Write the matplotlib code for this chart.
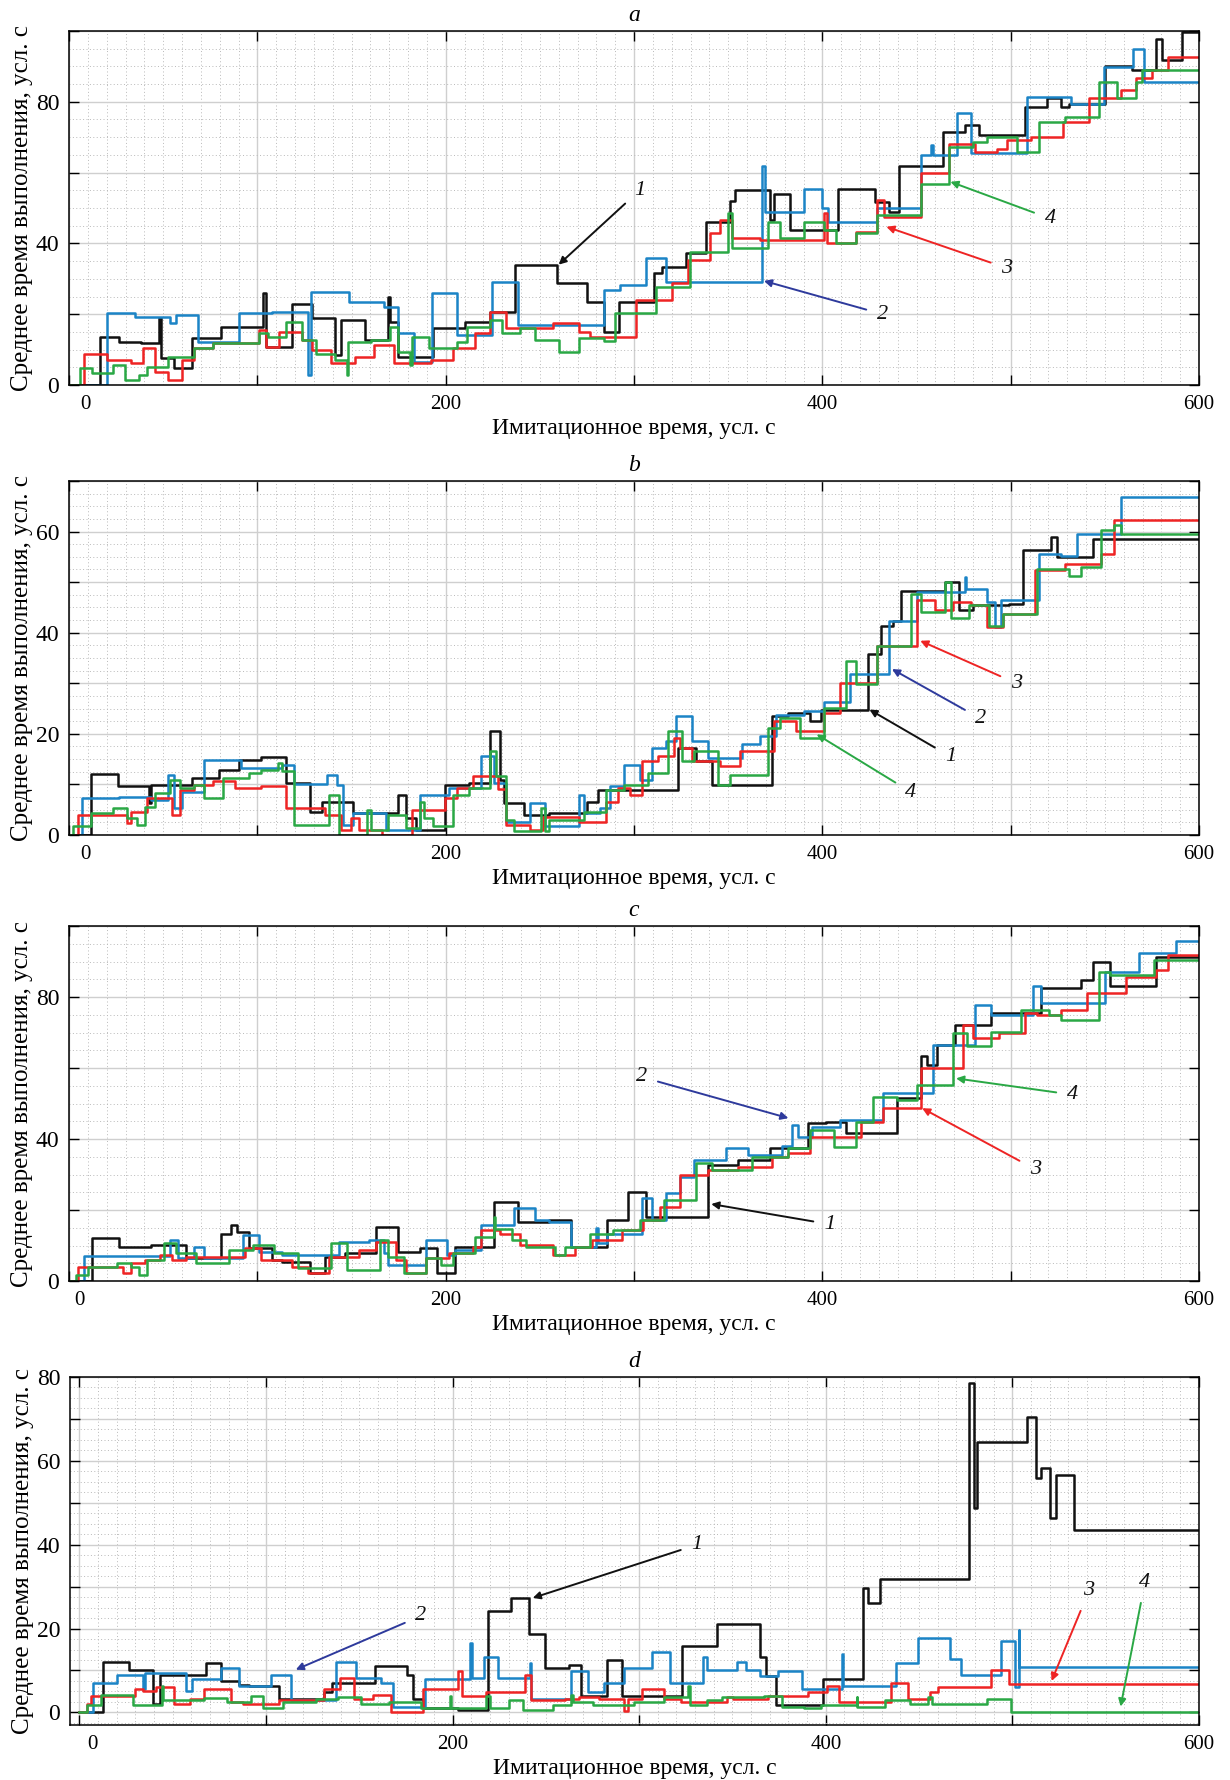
import matplotlib
matplotlib.use('Agg')
import matplotlib.pyplot as plt
from matplotlib.ticker import MultipleLocator, FuncFormatter

plt.rcParams['font.family'] = ['Liberation Serif', 'DejaVu Serif']

XLABEL = 'Имитационное время, усл. с'
YLABEL = 'Среднее время выполнения, усл. с'

# series are step functions: (time, value) where each value holds until the next time
# ---- panel a ----
A_BLACK = [(0, 0), (16.7, 13.6), (26.4, 12.2), (38.3, 11.8), (47.6, 19.0), (49.1, 7.5), (55.6, 4.7),
           (65.4, 13.2), (80.5, 16.5), (103.2, 26.0), (104.5, 10.8), (118.4, 23.0), (129.2, 18.8),
           (141.1, 8.5), (144.4, 18.4), (157.4, 12.7), (169.3, 25.0), (170.3, 17.9), (174.7, 8.0),
           (193.1, 16.0), (210.4, 17.9), (223.4, 20.7), (236.8, 33.9), (259.1, 28.7), (275.3, 23.5),
           (284.0, 15.0), (292.0, 23.5), (310.4, 31.5), (314.7, 33.4), (327.5, 37.2), (338.2, 46.1),
           (351.0, 52.0), (353.7, 55.0), (372.3, 46.6), (374.4, 54.0), (382.9, 43.8), (408.5, 55.5),
           (427.7, 51.8), (435.2, 49.0), (440.5, 62.0), (464.0, 71.5), (475.7, 73.4), (483.2, 70.6),
           (507.7, 78.6), (519.4, 81.0), (526.9, 78.4), (531.1, 79.5), (550.3, 90.0), (564.2, 89.0),
           (577.0, 97.6), (580.2, 91.8), (590.8, 99.6), (600, 99.6)]
A_BLUE = [(0, 0), (20.0, 20.2), (35.0, 19.3), (53.5, 17.4), (56.8, 19.8), (68.6, 12.2), (90.3, 20.2),
          (107.6, 20.7), (127.0, 2.8), (128.5, 26.4), (148.7, 23.5), (167.0, 22.1), (174.7, 14.6),
          (183.0, 6.6), (193.0, 25.9), (206.0, 14.1), (224.5, 29.2), (238.5, 17.0), (284.0, 26.8),
          (292.6, 28.2), (306.6, 35.8), (316.8, 29.2), (368.0, 62.0), (369.5, 49.0), (390.4, 55.5),
          (400.0, 49.9), (403.0, 46.1), (428.8, 49.9), (452.2, 65.0), (457.5, 67.8), (459.0, 65.0),
          (471.4, 76.7), (478.9, 65.4), (508.7, 81.4), (532.2, 79.5), (549.3, 89.9), (565.0, 95.0),
          (570.6, 85.6), (600, 85.6)]
A_RED = [(0, 0), (8.0, 8.8), (20.0, 7.1), (33.0, 6.1), (39.4, 10.4), (45.9, 3.8), (52.4, 1.4),
         (60.0, 7.1), (66.5, 10.4), (76.2, 11.8), (101.0, 15.5), (104.5, 10.8), (111.3, 15.0),
         (123.8, 12.7), (129.2, 9.9), (139.0, 6.1), (152.0, 8.0), (161.7, 11.3), (172.5, 6.1),
         (192.0, 7.1), (203.9, 10.4), (215.8, 14.6), (223.4, 20.7), (232.0, 16.0), (257.0, 17.4),
         (271.0, 15.0), (276.4, 13.6), (301.3, 24.0), (320.0, 28.7), (328.6, 35.3), (340.3, 42.8),
         (345.6, 46.6), (352.0, 41.4), (367.0, 41.0), (401.0, 48.5), (402.5, 40.0), (418.0, 43.3),
         (428.8, 52.2), (433.0, 47.5), (452.2, 59.8), (467.0, 68.2), (481.0, 65.9), (492.7, 66.8),
         (498.0, 69.2), (510.6, 70.1), (527.9, 74.4), (541.8, 81.0), (558.8, 83.3), (566.3, 86.6),
         (574.8, 89.0), (583.4, 92.7), (600, 92.7)]
A_GREEN = [(0, 0), (6.0, 4.7), (12.3, 3.3), (23.2, 5.6), (29.7, 1.4), (37.2, 2.8), (41.6, 5.2),
           (52.4, 8.0), (66.5, 10.4), (76.2, 11.8), (101.0, 14.6), (105.4, 13.6), (115.0, 17.9),
           (123.8, 12.7), (131.4, 8.9), (141.1, 7.1), (147.5, 2.8), (148.0, 12.2), (160.6, 12.7),
           (170.3, 16.5), (174.7, 9.4), (181.2, 5.6), (182.0, 13.6), (191.0, 10.4), (206.0, 12.2),
           (211.4, 16.5), (223.4, 18.4), (229.9, 14.6), (239.6, 16.0), (247.2, 12.7), (260.2, 9.4),
           (271.0, 13.2), (284.0, 12.5), (290.0, 20.2), (311.5, 27.8), (329.6, 37.6), (349.9, 48.5),
           (352.0, 38.6), (371.2, 46.1), (377.6, 41.4), (390.4, 46.1), (401.0, 43.8), (407.4, 40.0),
           (418.0, 42.8), (428.8, 48.0), (452.2, 56.9), (467.2, 67.3), (480.0, 68.7), (487.4, 70.1),
           (503.4, 65.9), (515.1, 74.4), (529.0, 75.8), (547.1, 85.6), (556.7, 81.0), (566.3, 85.6),
           (569.5, 89.0), (600, 89.0)]

# ---- panel b ----
B_BLACK = [(0, 0), (11.7, 12.1), (26.0, 9.6), (42.6, 6.3), (43.5, 9.9), (65.4, 11.3), (79.4, 12.9),
           (90.3, 14.9), (102.0, 15.4), (115.0, 10.3), (128.0, 4.6), (134.6, 6.6), (150.9, 4.3),
           (174.7, 7.9), (179.0, 3.3), (184.4, 1.0), (199.6, 9.9), (212.6, 10.3), (223.4, 20.5),
           (228.8, 10.9), (231.0, 6.3), (241.8, 4.0), (254.8, 4.3), (275.3, 6.6), (280.7, 8.9),
           (323.2, 17.2), (332.8, 14.6), (341.4, 9.9), (373.3, 23.5), (381.9, 24.2), (393.6, 22.5),
           (399.1, 24.8), (424.5, 35.8), (431.0, 41.4), (437.4, 42.4), (441.6, 48.3), (465.0, 50.0),
           (472.8, 44.4), (480.0, 45.4), (499.1, 45.7), (506.6, 56.3), (521.5, 58.9), (524.7, 55.0),
           (543.9, 58.6), (600, 58.6)]
B_BLUE = [(0, 0), (6.9, 7.3), (26.4, 7.6), (43.7, 7.0), (52.4, 11.9), (55.6, 5.3), (60.0, 8.6),
          (71.9, 14.9), (91.3, 13.2), (113.0, 13.9), (119.5, 10.0), (136.8, 11.9), (142.2, 9.9),
          (145.5, 2.0), (150.9, 4.3), (168.2, 1.0), (186.6, 7.9), (201.7, 9.3), (219.0, 15.6),
          (225.5, 10.3), (232.0, 2.6), (245.0, 6.3), (252.6, 1.7), (271.0, 7.9), (273.2, 4.3),
          (281.7, 5.3), (287.0, 9.6), (294.5, 13.9), (303.0, 10.9), (309.4, 17.2), (316.8, 18.5),
          (322.2, 23.5), (330.7, 18.5), (339.2, 15.2), (357.4, 17.9), (366.9, 19.5), (375.5, 23.8),
          (390.4, 24.5), (401.1, 26.2), (414.9, 31.8), (435.2, 42.4), (450.1, 48.0), (475.7, 51.0),
          (476.5, 48.7), (487.4, 46.1), (491.7, 41.1), (494.9, 46.4), (515.1, 55.6), (526.9, 55.2),
          (535.4, 59.6), (558.8, 66.9), (600, 66.9)]
B_RED = [(0, 0), (4.8, 4.0), (30.7, 2.3), (32.9, 4.6), (41.6, 7.3), (54.5, 4.0), (58.9, 8.9),
         (66.5, 9.9), (76.2, 10.6), (88.1, 9.3), (102.2, 9.6), (115.2, 5.3), (135.7, 4.0), (144.4, 1.0),
         (149.8, 3.3), (154.1, 1.0), (166.0, 0.0), (182.3, 5.0), (199.6, 7.3), (206.1, 9.3),
         (214.7, 11.6), (227.7, 9.0), (232.0, 2.0), (245.0, 1.0), (251.5, 3.6), (271.0, 2.6),
         (284.9, 6.6), (291.3, 9.3), (297.7, 7.9), (304.0, 14.6), (312.6, 15.6), (321.1, 19.2),
         (324.3, 17.2), (330.7, 14.6), (345.6, 13.6), (356.3, 16.6), (374.4, 22.5), (386.1, 20.5),
         (401.1, 24.2), (409.6, 30.1), (428.8, 37.4), (450.1, 46.4), (459.7, 44.4), (469.3, 46.0),
         (478.9, 45.4), (487.4, 41.1), (496.0, 43.7), (513.0, 52.3), (529.0, 53.6), (548.2, 55.6),
         (554.6, 62.3), (600, 62.3)]
B_GREEN = [(0, 0), (2.2, 1.7), (11.7, 4.3), (23.2, 5.3), (30.7, 3.3), (36.1, 2.0), (40.5, 5.6),
           (45.9, 8.3), (53.5, 10.9), (58.9, 9.3), (66.5, 9.9), (71.9, 7.3), (81.6, 11.3), (95.7, 12.3),
           (102.2, 12.9), (110.8, 14.2), (113.0, 12.6), (119.5, 2.0), (137.9, 7.9), (143.3, 0.0),
           (158.4, 5.0), (160.6, 1.0), (169.3, 4.0), (179.0, 1.3), (186.6, 6.6), (188.7, 3.3),
           (193.1, 1.7), (203.9, 7.9), (212.6, 9.3), (223.4, 16.6), (226.6, 11.6), (232.0, 3.0),
           (236.4, 0.7), (250.4, 5.3), (252.6, 0.7), (254.8, 3.0), (273.2, 4.6), (284.9, 8.9),
           (294.5, 9.9), (307.2, 12.3), (317.9, 20.5), (325.4, 14.6), (331.8, 16.6), (344.6, 9.9),
           (351.0, 11.9), (371.2, 21.2), (377.6, 23.2), (388.3, 19.2), (401.1, 25.2), (412.8, 34.4),
           (418.1, 29.8), (428.8, 37.4), (446.9, 47.7), (452.2, 44.0), (465.0, 50.0), (468.2, 43.0),
           (477.8, 45.4), (488.5, 41.4), (496.0, 43.7), (514.1, 52.6), (531.1, 51.3), (537.5, 53.0),
           (548.2, 60.3), (554.6, 61.3), (558.8, 59.6), (600, 59.6)]

# ---- panel c ----
C_BLACK = [(0, 0), (12.3, 12.0), (26.4, 9.7), (43.7, 10.2), (62.1, 6.4), (80.5, 13.4), (85.9, 15.8),
           (89.2, 13.9), (95.7, 9.2), (107.6, 5.9), (113.0, 5.5), (128.1, 2.2), (135.7, 6.9),
           (146.5, 7.8), (162.8, 15.3), (174.7, 8.3), (186.6, 9.2), (195.2, 2.2), (205.0, 9.7),
           (225.5, 22.4), (238.5, 16.7), (254.8, 17.2), (266.7, 9.7), (285.9, 17.2), (296.6, 25.2),
           (306.2, 18.1), (339.2, 32.7), (355.2, 34.1), (372.3, 37.4), (392.5, 44.5), (402.1, 44.9),
           (412.8, 41.6), (439.4, 51.5), (452.2, 63.3), (455.4, 60.9), (460.8, 66.5), (470.4, 72.2),
           (489.6, 75.5), (516.2, 82.5), (537.5, 84.9), (543.9, 90.0), (552.5, 83.0), (577.0, 91.4),
           (600, 91.4)]
C_BLUE = [(0, 0), (8.0, 7.0), (53.5, 11.6), (57.8, 6.4), (66.5, 9.7), (71.9, 6.4), (92.4, 13.0),
          (101.1, 8.3), (113.0, 7.3), (143.3, 11.1), (159.5, 11.6), (167.1, 8.0), (169.3, 4.5),
          (189.8, 11.6), (200.6, 7.3), (205.0, 8.7), (219.0, 15.8), (236.4, 20.5), (247.2, 17.2),
          (254.8, 16.7), (266.7, 9.7), (279.7, 15.0), (280.7, 10.6), (285.9, 13.4), (304.0, 23.3),
          (309.4, 17.2), (316.8, 24.7), (324.3, 29.4), (331.8, 34.1), (348.8, 37.4), (360.6, 35.5),
          (378.7, 38.0), (384.0, 44.0), (387.2, 40.7), (394.7, 43.5), (409.6, 45.4), (432.0, 52.9),
          (458.6, 66.5), (481.0, 77.8), (489.6, 75.0), (512.0, 83.0), (516.2, 78.3), (550.3, 87.2),
          (568.4, 92.4), (587.6, 95.7), (600, 95.7)]
C_RED = [(0, 0), (4.8, 4.0), (28.6, 2.2), (32.9, 5.0), (40.5, 5.9), (48.1, 7.3), (54.5, 5.9),
         (62.1, 6.9), (93.5, 9.2), (102.2, 5.9), (118.4, 4.0), (127.1, 2.2), (137.9, 6.9), (154.1, 8.7),
         (162.8, 11.1), (173.6, 5.9), (179.0, 2.2), (189.8, 6.4), (201.7, 7.8), (214.7, 9.7),
         (219.0, 14.4), (228.8, 13.4), (239.6, 10.2), (256.9, 7.3), (268.8, 9.7), (277.5, 11.6),
         (293.7, 14.4), (305.0, 17.2), (313.6, 21.0), (324.3, 29.9), (339.2, 31.3), (355.2, 32.2),
         (373.3, 35.0), (381.9, 36.0), (393.6, 40.7), (420.3, 44.9), (432.0, 48.7), (452.2, 60.0),
         (474.6, 72.2), (480.0, 68.4), (493.8, 69.8), (507.7, 75.5), (514.1, 75.0), (526.9, 76.4),
         (540.7, 81.1), (561.0, 85.8), (577.0, 87.7), (583.4, 91.9), (600, 91.9)]
C_GREEN = [(0, 0), (3.7, 1.7), (10.2, 4.0), (25.3, 5.0), (32.9, 4.0), (37.2, 1.7), (41.6, 5.9),
           (50.2, 10.6), (56.7, 7.8), (67.5, 5.0), (84.8, 8.7), (97.8, 10.2), (108.7, 7.8),
           (121.6, 3.6), (139.0, 10.6), (147.6, 3.1), (164.9, 11.6), (169.3, 6.9), (177.9, 2.2),
           (189.8, 6.4), (197.4, 4.5), (203.9, 7.8), (215.8, 12.5), (225.5, 18.1), (226.2, 14.8),
           (235.3, 11.6), (242.9, 9.7), (258.0, 7.3), (263.4, 9.7), (276.4, 13.4), (289.1, 14.4),
           (303.0, 17.2), (315.8, 22.8), (332.8, 33.2), (341.4, 31.3), (362.7, 35.0), (381.9, 37.4),
           (393.6, 42.6), (406.4, 37.9), (418.1, 44.9), (426.7, 52.0), (439.4, 51.0), (450.1, 55.3),
           (469.3, 69.8), (476.8, 66.1), (489.6, 70.3), (505.5, 76.4), (520.5, 75.0), (526.9, 73.6),
           (547.1, 87.2), (552.5, 86.3), (575.9, 90.5), (600, 90.5)]

# ---- panel d ----
D_BLACK = [(0, 0), (12.6, 12.1), (26.7, 10.2), (39.3, 2.1), (43.0, 9.0), (68.0, 11.8), (75.7, 7.5),
           (85.4, 6.5), (90.9, 6.3), (107.2, 3.3), (131.1, 4.8), (135.4, 7.1), (158.3, 11.1),
           (175.7, 9.0), (178.9, 3.3), (184.3, 1.0), (202.8, 0.6), (219.1, 24.3), (231.1, 27.3),
           (240.9, 18.7), (249.6, 10.5), (262.6, 11.3), (269.1, 4.0), (283.0, 12.4), (291.0, 4.0),
           (322.8, 15.9), (341.7, 21.2), (364.6, 13.2), (367.8, 8.6), (373.3, 1.8), (398.3, 7.9),
           (420.0, 29.6), (422.8, 26.2), (429.3, 31.9), (476.5, 78.5), (479.3, 48.7), (480.9, 64.5),
           (508.0, 70.5), (512.4, 55.8), (515.2, 58.2), (520.0, 46.3), (523.3, 56.7), (533.0, 43.5),
           (600, 43.5)]
D_BLUE = [(0, 0), (7.2, 7.1), (20.2, 9.0), (34.3, 5.6), (35.4, 9.4), (57.2, 5.2), (60.4, 7.9),
          (75.7, 10.5), (85.4, 6.3), (102.8, 9.0), (113.7, 2.9), (137.6, 12.1), (148.5, 8.2),
          (161.5, 7.1), (168.0, 1.4), (185.4, 7.9), (209.3, 16.5), (210.4, 8.2), (217.0, 13.2),
          (224.6, 8.2), (241.4, 11.7), (242.0, 3.3), (263.7, 9.8), (272.4, 4.8), (281.1, 7.1),
          (291.7, 10.5), (307.0, 14.4), (316.7, 7.1), (334.1, 13.2), (336.3, 10.2), (352.6, 12.1),
          (357.0, 10.2), (364.6, 8.6), (374.3, 9.8), (387.4, 5.6), (408.5, 14.0), (409.1, 6.3),
          (437.4, 11.7), (449.3, 17.8), (466.7, 12.8), (472.2, 9.0), (493.9, 17.0), (501.5, 6.0),
          (503.3, 19.7), (503.8, 10.9), (600, 10.9)]
D_RED = [(0, 0), (3.9, 2.1), (6.1, 4.0), (30.0, 5.6), (34.3, 5.0), (40.9, 5.95), (50.7, 2.1),
         (59.3, 3.3), (67.0, 5.6), (81.1, 2.5), (87.6, 2.1), (107.2, 2.9), (131.1, 5.6), (139.8, 8.2),
         (147.4, 3.3), (157.2, 4.2), (167.0, 0.2), (184.3, 5.6), (202.8, 9.8), (205.0, 4.0),
         (218.0, 4.8), (238.7, 9.0), (242.0, 2.9), (260.4, 3.3), (268.0, 3.7), (278.7, 3.3),
         (291.7, 0.4), (293.9, 3.3), (301.5, 5.6), (313.5, 3.3), (322.2, 2.5), (347.2, 3.7),
         (350.4, 3.3), (368.9, 4.0), (390.7, 4.8), (400.4, 6.3), (407.0, 2.5), (435.2, 7.1),
         (443.9, 3.3), (455.9, 4.8), (460.2, 5.95), (488.5, 10.2), (498.3, 6.7), (600, 6.7)]
D_GREEN = [(0, 0), (3.9, 1.8), (11.5, 4.2), (28.9, 1.8), (44.1, 6.3), (45.0, 2.9), (67.0, 3.4),
           (78.9, 2.5), (92.0, 4.0), (98.5, 1.0), (109.3, 2.5), (126.7, 3.3), (138.7, 3.7),
           (150.7, 2.1), (165.9, 2.5), (183.3, 1.0), (198.5, 4.0), (199.3, 1.0), (218.0, 4.0),
           (220.2, 1.0), (230.0, 2.9), (237.6, 0.6), (253.9, 1.8), (263.7, 4.2), (264.3, 2.5),
           (275.4, 1.8), (297.2, 2.5), (313.5, 3.7), (326.3, 6.3), (327.0, 1.8), (336.3, 2.9),
           (344.6, 3.7), (366.7, 4.0), (376.5, 1.4), (388.5, 1.0), (397.2, 1.8), (416.5, 3.7),
           (417.0, 1.4), (432.0, 2.9), (445.0, 2.1), (454.8, 3.7), (457.0, 2.1), (486.3, 3.3),
           (499.3, 0.2), (600, 0.2)]

# curve labels: (text, arrow tip, label position, colour key)
A_NOTES = [('1', (260, 34), (303, 55), 'k'), ('2', (369, 29.4), (432, 20), 'n'),
           ('3', (434, 44.7), (498, 33), 'r'), ('4', (468, 57.4), (521, 47), 'g')]
B_NOTES = [('3', (452, 38.4), (503, 30), 'r'), ('2', (437, 32.8), (484, 23), 'n'),
           ('1', (425, 24.8), (468, 15.5), 'k'), ('4', (397, 19.9), (447, 8.5), 'g')]
C_NOTES = [('2', (382, 45.9), (304, 57.5), 'n'), ('4', (471, 57.1), (533, 52.5), 'g'),
           ('3', (453, 48.7), (513, 31.5), 'r'), ('1', (341, 21.7), (404, 16), 'k')]
D_NOTES = [('2', (116, 10.2), (183, 23), 'n'), ('1', (243, 27.3), (331, 40), 'k'),
           ('3', (521, 7.5), (541, 29), 'r'), ('4', (558, 1.4), (571, 31), 'g')]

LINE_COLORS = ['#111111', '#1b84c6', '#ee2424', '#2aa845']
NOTE_COLORS = {'k': '#111111', 'n': '#2e3a9c', 'r': '#ee2424', 'g': '#2aa845'}


def setup_axes(ax, ylim, ymajor, ylabels, xlim, zero_shift):
    ax.set_xlim(*xlim)
    ax.set_ylim(*ylim)
    ax.xaxis.set_major_locator(MultipleLocator(100))
    ax.xaxis.set_minor_locator(MultipleLocator(10))
    ax.yaxis.set_major_locator(MultipleLocator(ymajor))
    ax.yaxis.set_minor_locator(MultipleLocator(ymajor / 4))
    # "0" on the time axis is drawn separately, a little right of the origin as in the original
    ax.xaxis.set_major_formatter(FuncFormatter(
        lambda v, p: f'{v:.0f}' if round(v) % 200 == 0 and round(v) != 0 else ''))
    ax.yaxis.set_major_formatter(FuncFormatter(lambda v, p: f'{v:.0f}' if round(v) in ylabels else ''))
    ax.grid(which='major', color='#cfcfcf', lw=1.0, ls='-')
    ax.grid(which='minor', color='#b9b9b9', lw=0.7, ls=(0, (1, 2.5)))
    ax.set_axisbelow(True)
    ax.tick_params(which='major', direction='in', length=7, width=1, top=True, right=True)
    ax.tick_params(axis='x', which='major', pad=7, labelsize=15)
    ax.tick_params(axis='y', which='major', pad=7, labelsize=17)
    ax.tick_params(which='minor', length=0)
    for s in ax.spines.values():
        s.set_linewidth(1.1)
    ax.annotate('0', xy=(0, 0), xycoords=('data', 'axes fraction'), xytext=(zero_shift, -7),
                textcoords='offset points', ha='center', va='top', fontsize=15)
    ax.set_xlabel(XLABEL, fontsize=17, labelpad=3)
    ax.set_ylabel(YLABEL, fontsize=18, labelpad=2)


def draw_panel(ax, series, notes, title):
    for pts, c in zip(series, LINE_COLORS):
        t = [p[0] for p in pts]
        v = [p[1] for p in pts]
        ax.step(t, v, where='post', color=c, lw=1.8)
    for txt, tip, pos, ck in notes:
        col = NOTE_COLORS[ck]
        ax.annotate(txt, xy=tip, xytext=pos, fontsize=16, style='italic', color='#111111',
                    ha='center', va='center',
                    arrowprops=dict(arrowstyle='-|>', color=col, lw=1.4, mutation_scale=11,
                                    shrinkA=6, shrinkB=0))
    ax.set_title(title, fontsize=17, style='italic', pad=7)


fig = plt.figure(figsize=(12.3, 17.8), dpi=100)
ax_a = fig.add_axes([0.0561, 0.7837, 0.9187, 0.1989])
ax_b = fig.add_axes([0.0561, 0.5309, 0.9187, 0.1989])
ax_c = fig.add_axes([0.0561, 0.2803, 0.9187, 0.1994])
ax_d = fig.add_axes([0.0569, 0.0309, 0.9179, 0.1955])

setup_axes(ax_a, (0, 100), 20, [0, 40, 80], (0, 600), 11.5)
setup_axes(ax_b, (0, 70), 10, [0, 20, 40, 60], (0, 600), 11.5)
setup_axes(ax_c, (0, 100), 20, [0, 40, 80], (0, 600), 7.5)
setup_axes(ax_d, (-3, 80), 10, [0, 20, 40, 60, 80], (-5, 600), 9.5)

draw_panel(ax_a, [A_BLACK, A_BLUE, A_RED, A_GREEN], A_NOTES, 'a')
draw_panel(ax_b, [B_BLACK, B_BLUE, B_RED, B_GREEN], B_NOTES, 'b')
draw_panel(ax_c, [C_BLACK, C_BLUE, C_RED, C_GREEN], C_NOTES, 'c')
draw_panel(ax_d, [D_BLACK, D_BLUE, D_RED, D_GREEN], D_NOTES, 'd')

fig.savefig('out.png', dpi=100)
plt.close(fig)
